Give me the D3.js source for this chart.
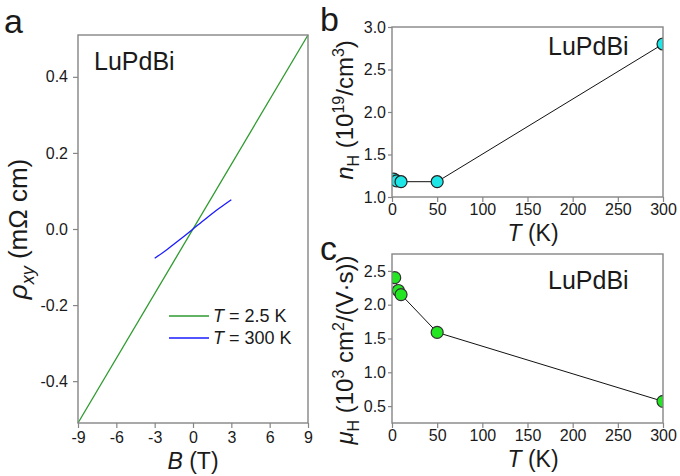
<!DOCTYPE html>
<html><head><meta charset="utf-8">
<script src="https://cdn.jsdelivr.net/npm/d3@7"></script>
<style>body{margin:0;background:#fff} text{font-family:"Liberation Sans",Arial,sans-serif;fill:#1a1a1a}</style>
</head><body><svg id="c" width="680" height="476"></svg>
<script>
// ---- data ----
const fieldB25 = [-9, 9];
const rho25K = [-0.51, 0.51];
const fieldB300 = [-3, -2, -1, 0, 1, 2, 3];
const rho300K = [-0.077, -0.053, -0.027, 0, 0.027, 0.053, 0.077];
const tempN = [2, 5, 10, 50, 300];
const nH = [1.21, 1.19, 1.18, 1.18, 2.8];
const tempMu = [3, 7, 10, 50, 300];
const muH = [2.40, 2.21, 2.15, 1.59, 0.57];
const xTicksA = [-9, -6, -3, 0, 3, 6, 9];
const yTicksA = [-0.4, -0.2, 0, 0.2, 0.4];
const xTicksT = [0, 50, 100, 150, 200, 250, 300];
const yTicksN = [1.0, 1.5, 2.0, 2.5, 3.0];
const yTicksMu = [0.5, 1.0, 1.5, 2.0, 2.5];
const legendLabels = ["2.5 K", "300 K"];

const svg = d3.select("#c");
const frameColor = "#858585";
const fmtInt = d => (d < 0 ? "-" : "") + Math.abs(d);
const fmt1 = d => (d < 0 ? "-" : "") + Math.abs(d).toFixed(1);

function axes(g, x, y, xt, yt, xfmt, yfmt, pad) {
  const ax = g.append("g").attr("transform", `translate(0,${y.range()[0]})`)
    .call(d3.axisBottom(x).tickValues(xt).tickFormat(xfmt).tickSize(5).tickSizeOuter(0).tickPadding(pad.x));
  const ay = g.append("g").attr("transform", `translate(${x.range()[0]},0)`)
    .call(d3.axisLeft(y).tickValues(yt).tickFormat(yfmt).tickSize(pad.ts).tickSizeOuter(0).tickPadding(pad.y));
  [ax, ay].forEach(a => {
    a.selectAll("text").style("font-size", "16px").style("font-family", '"Liberation Sans",Arial,sans-serif').attr("fill", "#1a1a1a");
    a.selectAll("line").attr("stroke", frameColor).attr("stroke-width", 1.2);
    a.select(".domain").remove();
  });
  g.append("rect").attr("x", x.range()[0]).attr("y", y.range()[1])
    .attr("width", x.range()[1] - x.range()[0]).attr("height", y.range()[0] - y.range()[1])
    .attr("fill", "none").attr("stroke", frameColor).attr("stroke-width", 1.4);
}

// ---- panel a ----
const xa = d3.scaleLinear().domain([-9, 9]).range([78, 308]);
const ya = d3.scaleLinear().domain([-0.51, 0.51]).range([423, 35]);
const ga = svg.append("g");
const lineA = d3.line().x(d => xa(d[0])).y(d => ya(d[1]));
ga.append("path").datum(fieldB25.map((b, i) => [b, rho25K[i]])).attr("d", lineA)
  .attr("fill", "none").attr("stroke", "#2e9a2e").attr("stroke-width", 1.3);
ga.append("path").datum(fieldB300.map((b, i) => [b, rho300K[i]])).attr("d", d3.line().curve(d3.curveMonotoneX).x(d => xa(d[0])).y(d => ya(d[1])))
  .attr("fill", "none").attr("stroke", "#1a1aff").attr("stroke-width", 1.3);
axes(ga, xa, ya, xTicksA, yTicksA, fmtInt, fmt1, {x: 4, y: 5, ts: 5});
ga.append("text").attr("x", 94).attr("y", 70).style("font-size", "25px").text("LuPdBi");
// legend
const legColors = ["#2e9a2e", "#1a1aff"];
legendLabels.forEach((l, i) => {
  const yy = 316 + i * 22;
  ga.append("line").attr("x1", 169).attr("x2", 209).attr("y1", yy).attr("y2", yy).attr("stroke", legColors[i]).attr("stroke-width", 1.3);
  const t = ga.append("text").attr("x", 213).attr("y", yy + 6).style("font-size", "18px");
  t.append("tspan").style("font-style", "italic").text("T");
  t.append("tspan").text(" = " + l);
});
// axis titles a
const ta = ga.append("text").attr("x", 193).attr("y", 469).attr("text-anchor", "middle").style("font-size", "23px");
ta.append("tspan").style("font-style", "italic").text("B");
ta.append("tspan").text(" (T)");
const tya = ga.append("text").attr("transform", "translate(27,229) rotate(-90)").attr("text-anchor", "middle").style("font-size", "26px");
tya.append("tspan").style("font-style", "italic").text("ρ");
tya.append("tspan").style("font-style", "italic").style("font-size", "18px").attr("dy", 7).text("xy");
tya.append("tspan").attr("dy", -7).text(" (mΩ cm)");
svg.append("text").attr("x", 4).attr("y", 33).style("font-size", "34px").text("a");

// ---- panel b ----
const xb = d3.scaleLinear().domain([0, 300]).range([392, 663]);
const yb = d3.scaleLinear().domain([1, 3]).range([197, 27]);
const gb = svg.append("g");
svg.append("clipPath").attr("id", "clipB").append("rect").attr("x", 392).attr("y", 27).attr("width", 271).attr("height", 170);
const lineB = d3.line().x(d => xb(d[0])).y(d => yb(d[1]));
const dataB = tempN.map((t, i) => [t, nH[i]]);
gb.append("path").datum(dataB).attr("d", lineB).attr("fill", "none").attr("stroke", "#111").attr("stroke-width", 1);
gb.append("g").attr("clip-path", "url(#clipB)").selectAll("circle").data(dataB).join("circle")
  .attr("cx", d => xb(d[0])).attr("cy", d => yb(d[1])).attr("r", 6)
  .attr("fill", "#1ee6e6").attr("stroke", "#222").attr("stroke-width", 1.2);
axes(gb, xb, yb, xTicksT, yTicksN, fmtInt, fmt1, {x: 2, y: 2, ts: 4});
gb.append("text").attr("x", 548).attr("y", 55).style("font-size", "25px").text("LuPdBi");
const tb = gb.append("text").attr("x", 533).attr("y", 241).attr("text-anchor", "middle").style("font-size", "23px");
tb.append("tspan").style("font-style", "italic").text("T");
tb.append("tspan").text(" (K)");
const tyb = gb.append("text").attr("transform", "translate(353,110) rotate(-90)").attr("text-anchor", "middle").style("font-size", "24px");
tyb.append("tspan").style("font-style", "italic").text("n");
tyb.append("tspan").style("font-size", "16px").attr("dy", 6).text("H");
tyb.append("tspan").attr("dy", -6).text(" (10");
tyb.append("tspan").style("font-size", "16px").attr("dy", -9).text("19");
tyb.append("tspan").attr("dy", 9).text("/cm");
tyb.append("tspan").style("font-size", "16px").attr("dy", -9).text("3");
tyb.append("tspan").attr("dy", 9).text(")");
svg.append("text").attr("x", 320).attr("y", 31).style("font-size", "34px").text("b");

// ---- panel c ----
const xc = d3.scaleLinear().domain([0, 300]).range([392, 663]);
const yc = d3.scaleLinear().domain([0.25, 2.75]).range([423, 254]);
const gc = svg.append("g");
svg.append("clipPath").attr("id", "clipC").append("rect").attr("x", 392).attr("y", 254).attr("width", 271).attr("height", 169);
const lineC = d3.line().x(d => xc(d[0])).y(d => yc(d[1]));
const dataC = tempMu.map((t, i) => [t, muH[i]]);
gc.append("path").datum(dataC).attr("d", lineC).attr("fill", "none").attr("stroke", "#111").attr("stroke-width", 1);
gc.append("g").attr("clip-path", "url(#clipC)").selectAll("circle").data(dataC).join("circle")
  .attr("cx", d => xc(d[0])).attr("cy", d => yc(d[1])).attr("r", 6)
  .attr("fill", "#22e622").attr("stroke", "#333").attr("stroke-width", 1.2);
axes(gc, xc, yc, xTicksT, yTicksMu, fmtInt, fmt1, {x: 2, y: 2, ts: 4});
gc.append("text").attr("x", 548).attr("y", 289).style("font-size", "25px").text("LuPdBi");
const tc = gc.append("text").attr("x", 533).attr("y", 467).attr("text-anchor", "middle").style("font-size", "23px");
tc.append("tspan").style("font-style", "italic").text("T");
tc.append("tspan").text(" (K)");
const tyc = gc.append("text").attr("transform", "translate(353,350) rotate(-90)").attr("text-anchor", "middle").style("font-size", "24px");
tyc.append("tspan").style("font-style", "italic").text("μ");
tyc.append("tspan").style("font-size", "16px").attr("dy", 6).text("H");
tyc.append("tspan").attr("dy", -6).text(" (10");
tyc.append("tspan").style("font-size", "16px").attr("dy", -9).text("3");
tyc.append("tspan").attr("dy", 9).text(" cm");
tyc.append("tspan").style("font-size", "16px").attr("dy", -9).text("2");
tyc.append("tspan").attr("dy", 9).text("/(V·s))");
svg.append("text").attr("x", 320).attr("y", 260).style("font-size", "34px").text("c");
</script></body></html>
